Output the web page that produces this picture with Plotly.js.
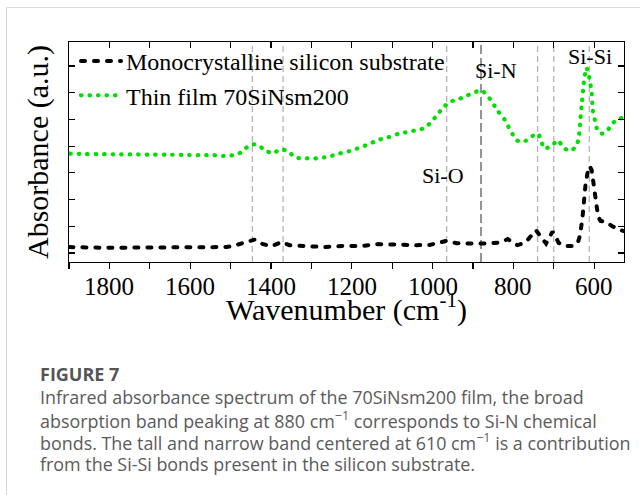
<!DOCTYPE html>
<html>
<head>
<meta charset="utf-8">
<script src="https://cdn.plot.ly/plotly-3.0.1.min.js"></script>
<style>
  html, body { margin: 0; padding: 0; background: #fff; }
  #chart { width: 640px; height: 495px; }
  .js-line { stroke-linecap: round !important; }
</style>
</head>
<body>
<div id="chart"></div>
<script>
// ---- data ----
const wnSubstrate = [1899,1850,1800,1750,1700,1650,1600,1550,1510,1485,1467,1440,1424,1399,1383,1374,1354,1312,1267,1222,1176,1135,1094,1040,1007,966,940,900,860,830,814,800,790,775,765,744,730,719,710,703,695,688,672,650,640,635,629,626,621,615,611,606,601,596,590,584,570,555,540,528];
const absSubstrate = [0.22,0.20,0.19,0.20,0.20,0.20,0.21,0.21,0.22,0.30,0.39,0.50,0.35,0.25,0.35,0.41,0.29,0.25,0.22,0.26,0.26,0.33,0.30,0.29,0.30,0.45,0.36,0.35,0.35,0.40,0.52,0.38,0.29,0.36,0.48,0.85,0.55,0.35,0.60,0.80,0.60,0.38,0.26,0.26,0.40,0.65,1.30,2.00,2.60,3.10,3.25,3.10,2.60,1.90,1.35,1.20,1.15,1.00,0.90,0.82];

const wnFilm = [1897,1860,1820,1780,1740,1700,1660,1620,1580,1540,1527,1505,1485,1469,1454,1435,1418,1396,1376,1359,1339,1318,1296,1275,1254,1231,1207,1186,1165,1145,1124,1102,1083,1061,1040,1019,1003,990,976,957,937,916,900,879,863,850,838,823,813,802,792,774,757,739,730,724,706,689,677,659,644,638,634,630,626,623,619,613,609,606,603,598,593,582,569,559,551,535,529];
const absFilm = [3.72,3.70,3.70,3.69,3.69,3.68,3.68,3.67,3.66,3.66,3.63,3.64,3.68,3.82,4.03,4.07,3.88,3.73,3.88,3.82,3.57,3.55,3.54,3.56,3.62,3.72,3.81,3.91,4.03,4.16,4.28,4.36,4.47,4.53,4.60,4.68,4.91,5.14,5.41,5.66,5.75,5.88,5.99,6.09,5.87,5.59,5.31,5.03,4.75,4.45,4.22,4.16,4.34,4.47,4.16,3.91,4.00,4.22,3.95,3.82,4.00,4.32,4.98,5.67,6.32,6.65,6.94,6.65,6.32,5.97,5.32,4.97,4.66,4.47,4.53,4.78,4.90,5.03,5.09];

const seriesNames = ["Monocrystalline silicon substrate", "Thin film 70SiNsm200"];

// x-axis tick labels
const xTickVals = [1800, 1600, 1400, 1200, 1000, 800, 600];
const xTickText = ["1800", "1600", "1400", "1200", "1000", "800", "600"];

// reference band positions (cm-1); the Si-N one is drawn darker
const bandLines = [1446, 1370, 965, 880, 740, 700, 612];
const strongBand = 880;

const bandLabels = ["Si-N", "Si-Si", "Si-O"];
const bandLabelX = [843, 611, 975];
const bandLabelY = [6.84, 7.37, 2.91];

const captionTitle = "FIGURE 7";
const captionLines = [
  "Infrared absorbance spectrum of the 70SiNsm200 film, the broad",
  "absorption band peaking at 880 cm<sup>\u22121</sup> corresponds to Si-N chemical",
  "bonds. The tall and narrow band centered at 610 cm<sup>\u22121</sup> is a contribution",
  "from the Si-Si bonds present in the silicon substrate."
];

// ---- layout helpers (pixel geometry of the figure) ----
const W = 640, H = 495;
const M = {l: 69, r: 16, t: 42, b: 233};
const PW = W - M.l - M.r, PH = H - M.t - M.b;
const px2x = p => (p - M.l) / PW;
const py2y = p => (H - M.b - p) / PH;

const serif = "Liberation Serif";
const sans = "Open Sans";

const traces = [
  {
    x: wnSubstrate, y: absSubstrate, type: "scatter", mode: "lines",
    name: seriesNames[0],
    line: {color: "#000000", width: 4, dash: "4px,9px"}
  },
  {
    x: wnFilm, y: absFilm, type: "scatter", mode: "lines",
    name: seriesNames[1],
    line: {color: "#00e000", width: 4.2, dash: "0.5px,8px", shape: "spline", smoothing: 0.6}
  }
];

const shapes = bandLines.map(v => ({
  type: "line", xref: "x", yref: "paper", x0: v, x1: v, y0: 0, y1: 1,
  layer: "below",
  line: v === strongBand
    ? {color: "#7a7a7a", width: 1.6, dash: "9px,4px"}
    : {color: "#b4b4b4", width: 1.3, dash: "6px,4px"}
}));
// card border (top and left edges)
shapes.push({type: "line", xref: "paper", yref: "paper",
  x0: px2x(6.5), x1: px2x(660), y0: py2y(7.5), y1: py2y(7.5),
  line: {color: "#dcdcdc", width: 1}});
shapes.push({type: "line", xref: "paper", yref: "paper",
  x0: px2x(6.5), x1: px2x(6.5), y0: py2y(7.5), y1: py2y(520),
  line: {color: "#dcdcdc", width: 1}});

const annotations = bandLabels.map((t, i) => ({
  text: t, x: bandLabelX[i], y: bandLabelY[i], xref: "x", yref: "y",
  showarrow: false, font: {family: serif, size: 22, color: "#000"}
}));
// x tick labels (drawn at the axis tick values)
xTickVals.forEach((v, i) => annotations.push({
  text: xTickText[i], x: v, xref: "x", y: py2y(286), yref: "paper",
  xanchor: "center", yanchor: "middle", showarrow: false,
  font: {family: serif, size: 25, color: "#000"}
}));
annotations.push({
  text: "<b>" + captionTitle + "</b>", xref: "paper", yref: "paper",
  x: px2x(38), y: py2y(374), xanchor: "left", yanchor: "middle", showarrow: false,
  font: {family: sans, size: 18, color: "#555555"}
});
const capY = [397, 419.5, 442, 464];
captionLines.forEach((t, i) => annotations.push({
  text: t, xref: "paper", yref: "paper",
  x: px2x(38), y: py2y(capY[i]), xanchor: "left", yanchor: "middle", showarrow: false,
  font: {family: sans, size: 17.9, color: "#5a5a5a"}
}));

const layout = {
  width: W, height: H,
  margin: M,
  font: {family: serif, color: "#000"},
  paper_bgcolor: "#ffffff", plot_bgcolor: "#ffffff",
  showlegend: true,
  legend: {
    x: px2x(76), y: py2y(39), xanchor: "left", yanchor: "top",
    bgcolor: "rgba(0,0,0,0)", borderwidth: 0,
    font: {family: serif, size: 24, color: "#000"},
    itemwidth: 40
  },
  xaxis: {
    range: [1900, 526], autorange: false,
    tickmode: "array", tickvals: xTickVals,
    showticklabels: false,
    ticks: "outside", ticklen: 6, tickwidth: 1.2, tickcolor: "#000",
    minor: {dtick: 100, tick0: 0, ticks: "outside", ticklen: 6, tickwidth: 1.2, tickcolor: "#000"},
    showline: true, linecolor: "#000", linewidth: 1.3, mirror: true,
    showgrid: false, zeroline: false,
    title: {text: "Wavenumber (cm<sup>-1</sup>)", font: {family: serif, size: 30, color: "#000"}, standoff: 30},
    automargin: false
  },
  xaxis2: {
    overlaying: "x", side: "top", anchor: "y",
    range: [1900, 526], autorange: false,
    tick0: 0, dtick: 100,
    ticks: "inside", ticklen: 6, tickwidth: 1.2, tickcolor: "#000",
    showticklabels: false, showgrid: false, zeroline: false, showline: false
  },
  yaxis: {
    range: [-0.34, 7.9], autorange: false,
    tick0: 0, dtick: 1,
    ticks: "inside", ticklen: 6, tickwidth: 1.2, tickcolor: "#000",
    showticklabels: false,
    showline: true, linecolor: "#000", linewidth: 1.3, mirror: "ticks",
    showgrid: false, zeroline: false,
    title: {text: "Absorbance (a.u.)", font: {family: serif, size: 30, color: "#000"}, standoff: 10},
    automargin: false
  },
  shapes: shapes,
  annotations: annotations
};

// invisible helper trace so the top axis (xaxis2) is drawn
traces.push({x: [wnSubstrate[0]], y: [absSubstrate[0]], xaxis: "x2", yaxis: "y",
  type: "scatter", mode: "markers", marker: {opacity: 0}, showlegend: false, hoverinfo: "skip"});

Plotly.newPlot("chart", traces, layout, {staticPlot: true, displayModeBar: false});
</script>
</body>
</html>
